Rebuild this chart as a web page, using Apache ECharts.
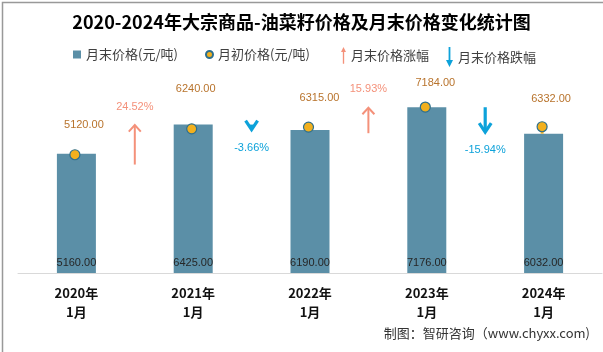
<!DOCTYPE html>
<html>
<head>
<meta charset="utf-8">
<script src="https://cdn.jsdelivr.net/npm/echarts@6/dist/echarts.min.js"></script>
<style>
html,body{margin:0;padding:0;background:#fff;}
#chart{width:603px;height:352px;}
</style>
</head>
<body>
<div id="chart"></div>
<script>
// ---- data ----
const categories = ['2020年\n1月', '2021年\n1月', '2022年\n1月', '2023年\n1月', '2024年\n1月'];
const endPrices = [5160, 6425, 6190, 7176, 6032];      // 月末价格(元/吨)
const startPrices = [5120, 6240, 6315, 7184, 6332];    // 月初价格(元/吨)
const changeRates = [24.52, -3.66, 15.93, -15.94];     // 月末价格涨跌幅 (%)

const seriesNames = ['月末价格(元/吨)', '月初价格(元/吨)', '月末价格涨幅', '月末价格跌幅'];

// ---- styles ----
const BAR_COLOR = '#5B8FA7';
const DOT_COLOR = '#F2B01E';
const DOT_BORDER = '#2D6F8E';
const UP_COLOR = '#F4917A';
const DOWN_COLOR = '#0DA2DA';
const DOT_LABEL_COLOR = '#B8732C';
const ARROW_PX_PER_PCT = 1.63;
const dotLabelOffsets = [[9, -30], [4, -40], [11, -29], [10, -24], [9, -28]];
const NUM_FONT = 'Liberation Sans';
const CJK_FONT = 'Noto Sans CJK SC';

const upData = [], downData = [];
changeRates.forEach((r, i) => { (r >= 0 ? upData : downData).push([i, r]); });

function makeArrowRender(isUp) {
  return function (params, api) {
    const i = api.value(0);
    const pct = api.value(1);
    const xa = api.coord([i, 0])[0];
    const xb = api.coord([i + 1, 0])[0];
    const xm = (xa + xb) / 2;
    const topVal = Math.max(endPrices[i], endPrices[i + 1]);
    const yTop = api.coord([i, topVal])[1];
    const len = Math.abs(pct) * ARROW_PX_PER_PCT;
    const color = isUp ? UP_COLOR : DOWN_COLOR;
    const lw = isUp ? 2 : 3.2;
    let tail, tip, head, labelY;
    if (isUp) {
      tip = yTop; tail = yTop + len;
      head = [[xm - 6, tip + 7], [xm, tip + 0.5], [xm + 6, tip + 7]];
      labelY = tip - 18;
    } else {
      tail = yTop; tip = yTop + len;
      head = [[xm - 6, tip - 10], [xm, tip - 1], [xm + 6, tip - 10]];
      labelY = tip + 17;
    }
    return {
      type: 'group',
      children: [
        { type: 'line', shape: { x1: xm, y1: tail, x2: xm, y2: isUp ? tip + 1 : tip - 2 }, style: { stroke: color, lineWidth: lw } },
        { type: 'polyline', shape: { points: head }, style: { stroke: color, lineWidth: lw, fill: null } },
        { type: 'text', style: { text: pct.toFixed(2) + '%', x: xm, y: labelY, align: 'center', verticalAlign: 'middle', fill: color, fontSize: 11, fontFamily: NUM_FONT } }
      ]
    };
  };
}

const chart = echarts.init(document.getElementById('chart'), null, { renderer: 'canvas' });

const legendBase = {
  selectedMode: false,
  orient: 'horizontal',
  padding: 0,
  textStyle: { fontSize: 13, color: '#404040', fontFamily: CJK_FONT }
};

const option = {
  backgroundColor: '#fff',
  animation: false,
  title: {
    text: '2020-2024年大宗商品-油菜籽价格及月末价格变化统计图',
    left: 'center',
    top: 13,
    padding: 0,
    textStyle: { fontSize: 18, fontWeight: 'bold', color: '#000', fontFamily: CJK_FONT }
  },
  legend: [
    Object.assign({}, legendBase, { left: 73, top: 48, itemWidth: 8, itemHeight: 8, data: [{ name: seriesNames[0], icon: 'rect' }] }),
    Object.assign({}, legendBase, { left: 205, top: 48, itemWidth: 7, itemHeight: 7, data: [{ name: seriesNames[1], icon: 'circle' }] }),
    Object.assign({}, legendBase, { left: 341, top: 47, itemWidth: 5, itemHeight: 20, data: [{ name: seriesNames[2], icon: 'path://M3,0 L6,6 L3.8,6 L3.8,20 L2.2,20 L2.2,6 L0,6 Z' }] }),
    Object.assign({}, legendBase, { left: 446, top: 47, itemWidth: 7, itemHeight: 20, data: [{ name: seriesNames[3], icon: 'path://M2.6,0 L4.4,0 L4.4,13 L7,13 L3.5,20 L0,13 L2.6,13 Z' }] })
  ],
  grid: { left: 18, right: 1, top: 42, bottom: 79, containLabel: false },
  xAxis: {
    type: 'category',
    data: categories,
    axisLine: { lineStyle: { color: '#D9D9D9', width: 1 } },
    axisTick: { show: false },
    axisLabel: { margin: 11, fontSize: 13, fontWeight: 'bold', color: '#111', lineHeight: 19, fontFamily: CJK_FONT }
  },
  yAxis: {
    type: 'value',
    min: 0,
    max: 10000,
    show: false,
    splitLine: { show: false }
  },
  series: [
    {
      name: seriesNames[0],
      type: 'bar',
      data: endPrices,
      barWidth: 39,
      z: 2,
      itemStyle: { color: BAR_COLOR },
      label: {
        show: true,
        position: 'insideBottom',
        distance: 5,
        color: '#262626',
        fontSize: 11,
        fontFamily: NUM_FONT,
        formatter: p => p.value.toFixed(2)
      }
    },
    {
      name: 'connector',
      type: 'custom',
      z: 3,
      data: startPrices.map((v, i) => [i, v, endPrices[i]]),
      renderItem: function (params, api) {
        const a = api.coord([api.value(0), api.value(1)]);
        const b = api.coord([api.value(0), api.value(2)]);
        return { type: 'line', shape: { x1: a[0] - 1.5, y1: a[1], x2: a[0] - 1.5, y2: b[1] }, style: { stroke: DOT_COLOR, lineWidth: 3 } };
      },
      silent: true
    },
    {
      name: seriesNames[1],
      type: 'scatter',
      z: 4,
      symbolSize: 10,
      symbolOffset: [-1.5, 0],
      itemStyle: { color: DOT_COLOR, borderColor: DOT_BORDER, borderWidth: 1.2, opacity: 1 },
      data: startPrices.map((v, i) => ({
        value: v,
        label: { offset: dotLabelOffsets[i] }
      })),
      label: {
        show: true,
        position: 'inside',
        color: DOT_LABEL_COLOR,
        fontSize: 11,
        fontFamily: NUM_FONT,
        formatter: p => p.value.toFixed(2)
      }
    },
    {
      name: seriesNames[2],
      type: 'custom',
      z: 5,
      itemStyle: { color: UP_COLOR },
      data: upData,
      renderItem: makeArrowRender(true)
    },
    {
      name: seriesNames[3],
      type: 'custom',
      z: 5,
      itemStyle: { color: DOWN_COLOR },
      data: downData,
      renderItem: makeArrowRender(false)
    }
  ],
  graphic: [
    {
      type: 'text',
      right: 13,
      top: 327,
      style: { text: '制图：智研咨询（www.chyxx.com)', fontSize: 13, fill: '#333', fontFamily: CJK_FONT }
    },
    {
      type: 'rect',
      left: 0, top: 0,
      shape: { x: 0, y: 0, width: 602, height: 351 },
      style: { fill: null, stroke: '#999', lineWidth: 1.5 },
      silent: true
    }
  ]
};

chart.setOption(option);
</script>
</body>
</html>
